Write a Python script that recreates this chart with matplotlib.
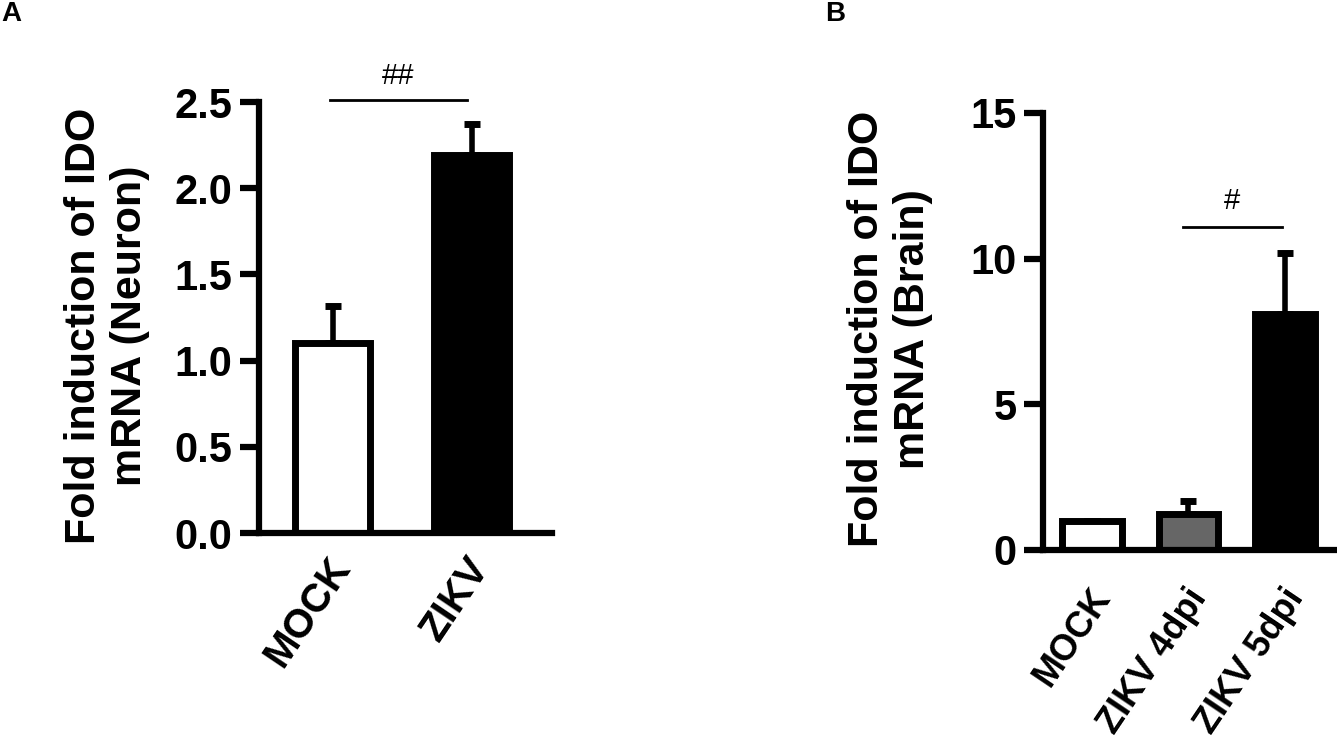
import matplotlib
matplotlib.use("Agg")
import matplotlib.pyplot as plt
import matplotlib.transforms as mtrans

plt.rcParams["font.family"] = ["Liberation Sans", "DejaVu Sans"]

# ── data ──────────────────────────────────────────────────────────────────
neuron_groups = ["MOCK", "ZIKV"]
neuron_mean   = [1.10, 2.19]
neuron_err    = [0.22, 0.18]
neuron_fill   = ["white", "black"]

brain_groups = ["MOCK", "ZIKV 4dpi", "ZIKV 5dpi"]
brain_mean   = [1.0, 1.25, 8.1]
brain_err    = [0.0, 0.42, 2.1]
brain_fill   = ["white", "#666666", "black"]

AX_LW   = 4.5
TICK_FS = 30
YLAB_FS = 31


def style_axis(ax, xfs, xpad, xshift):
    for s in ("top", "right"):
        ax.spines[s].set_visible(False)
    for s in ("left", "bottom"):
        ax.spines[s].set_linewidth(AX_LW)
    ax.tick_params(axis="y", length=14, width=AX_LW, pad=5, labelsize=TICK_FS)
    ax.tick_params(axis="x", length=0, pad=xpad, labelsize=xfs)
    for lab in ax.get_xticklabels() + ax.get_yticklabels():
        lab.set_fontweight("bold")
    # nudge the slanted category labels sideways
    off = mtrans.ScaledTranslation(xshift / 100, 0, ax.figure.dpi_scale_trans)
    for lab in ax.get_xticklabels():
        lab.set_transform(lab.get_transform() + off)


def draw_bars(ax, groups, mean, err, fill, width):
    x = list(range(len(groups)))
    ax.bar(x, mean, width=width, color=fill, edgecolor="black",
           linewidth=5, zorder=2)
    ax.errorbar(x, mean, yerr=[[0] * len(err), err], fmt="none",
                ecolor="black", elinewidth=4, capsize=6, capthick=5, zorder=1)
    ax.set_xticks(x)
    ax.set_xticklabels(groups, rotation=56, ha="right", rotation_mode="anchor")


fig = plt.figure(figsize=(13.37, 7.53), dpi=100)

# ── A: neuron ────────────────────────────────────────────────────────────
axA = fig.add_axes([0.1937, 0.292, 0.2193, 0.5725])
draw_bars(axA, neuron_groups, neuron_mean, neuron_err, neuron_fill, 0.54)
axA.set_xlim(-0.53, 1.58)
axA.set_ylim(0, 2.5)
axA.set_yticks([0, 0.5, 1.0, 1.5, 2.0, 2.5])
axA.set_yticklabels(["0.0", "0.5", "1.0", "1.5", "2.0", "2.5"])
style_axis(axA, xfs=29, xpad=12, xshift=-6)
axA.plot([-0.02, 0.97], [2.51, 2.51], color="black", lw=2, clip_on=False)
axA.text(0.47, 2.57, "##", ha="center", va="bottom", fontsize=21)
axA.text(-0.518, 0.48, "Fold induction of IDO\nmRNA (Neuron)", rotation=90,
         ha="center", va="center", fontsize=YLAB_FS, fontweight="bold",
         transform=axA.transAxes, linespacing=1.2)

# ── B: brain ─────────────────────────────────────────────────────────────
axB = fig.add_axes([0.780, 0.2696, 0.220, 0.5804])
draw_bars(axB, brain_groups, brain_mean, brain_err, brain_fill, 0.62)
axB.set_xlim(-0.51, 2.54)
axB.set_ylim(0, 15)
axB.set_yticks([0, 5, 10, 15])
style_axis(axB, xfs=26, xpad=23, xshift=-3)
axB.plot([0.94, 1.97], [11.1, 11.1], color="black", lw=2, clip_on=False)
axB.text(1.45, 11.5, "#", ha="center", va="bottom", fontsize=21)
axB.text(-0.52, 0.505, "Fold induction of IDO\nmRNA (Brain)", rotation=90,
         ha="center", va="center", fontsize=YLAB_FS, fontweight="bold",
         transform=axB.transAxes, linespacing=1.2)

fig.text(0.001, 0.982, "A", fontsize=20, fontweight="bold", va="center")
fig.text(0.617, 0.982, "B", fontsize=20, fontweight="bold", va="center")

fig.savefig("out.png", dpi=100)
